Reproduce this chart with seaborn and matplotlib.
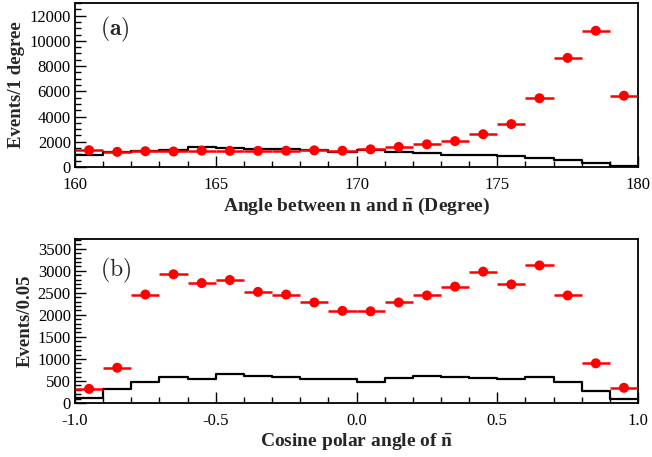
import numpy as np
import pandas as pd
import matplotlib
matplotlib.use("Agg")
import matplotlib.pyplot as plt
import seaborn as sns
from matplotlib.ticker import MultipleLocator

# ---- data ----
angle_edges = list(range(160, 181))
angle_data = [1330, 1200, 1250, 1230, 1300, 1280, 1280, 1290, 1320, 1290,
              1400, 1590, 1800, 2050, 2600, 3400, 5450, 8650, 10800, 5650]
angle_mc = [990, 1150, 1250, 1310, 1570, 1490, 1440, 1390, 1360, 1200,
            1310, 1200, 1120, 990, 990, 860, 700, 540, 280, 90]

cos_edges = [round(-1.0 + 0.1 * i, 2) for i in range(21)]
cos_data = [320, 800, 2460, 2920, 2720, 2790, 2520, 2460, 2280, 2090,
            2080, 2280, 2440, 2640, 2980, 2690, 3120, 2440, 900, 345]
cos_mc = [105, 318, 485, 600, 540, 650, 620, 585, 555, 555,
          485, 560, 620, 600, 575, 540, 600, 470, 280, 90]

sns.set_theme(style="white")
plt.rcParams["font.family"] = ["Liberation Serif", "DejaVu Serif"]
plt.rcParams["mathtext.fontset"] = "stix"

fig = plt.figure(figsize=(6.52, 4.57), dpi=100)
W, H = 652, 457


def make_ax(top, bottom, left=75, right=638):
    return fig.add_axes([left / W, 1 - bottom / H, (right - left) / W, (bottom - top) / H])


def draw(ax, edges, data, mc, xlim, ylim, xmaj, xmin, ymaj, ymin, xlabel, ylabel, tag, tagy, xfmt):
    e = np.array(edges, dtype=float)
    centers = (e[:-1] + e[1:]) / 2
    half = (e[1] - e[0]) / 2
    df = pd.DataFrame({"x": centers, "data": data, "mc": mc})
    sns.histplot(data=df, x="x", weights="mc", bins=list(e), element="step", fill=False,
                 color="black", linewidth=1.6, ax=ax)
    ax.errorbar(df["x"], df["data"], xerr=half, fmt="none", ecolor="#ff0000",
                elinewidth=1.8, capsize=0, zorder=3)
    sns.scatterplot(data=df, x="x", y="data", color="#ff0000", s=52, edgecolor="none",
                    ax=ax, zorder=4)
    ax.set_xlim(*xlim)
    ax.set_ylim(*ylim)
    ax.xaxis.set_major_locator(MultipleLocator(xmaj))
    ax.xaxis.set_minor_locator(MultipleLocator(xmin))
    ax.yaxis.set_major_locator(MultipleLocator(ymaj))
    ax.yaxis.set_minor_locator(MultipleLocator(ymin))
    ax.tick_params(which="both", direction="in", top=False, right=False,
                   bottom=True, left=True, labelsize=12, colors="black", width=1.0)
    ax.tick_params(which="major", length=8)
    ax.tick_params(axis="x", which="major", pad=7)
    ax.tick_params(axis="y", which="major", pad=3)
    ax.tick_params(which="minor", length=4)
    ax.xaxis.set_major_formatter(xfmt)
    for s in ax.spines.values():
        s.set_color("black")
        s.set_linewidth(1.3)
    ax.set_xlabel(xlabel, fontsize=14, fontweight="bold", labelpad=2)
    ax.set_ylabel(ylabel, fontsize=13.5, fontweight="bold", labelpad=3)
    ax.text(0.045, tagy, tag, transform=ax.transAxes, fontsize=17, va="center", ha="left",
            math_fontfamily="cm")
    ax.grid(False)


nbar = r"$\mathbf{\bar{n}}$"

ax1 = make_ax(3, 167)
draw(ax1, angle_edges, angle_data, angle_mc, (160, 180), (0, 13000), 5, 1, 2000, 500,
     "Angle between n and " + nbar + " (Degree)", "Events/1 degree", r"$\mathbf{(a)}$", 0.84,
     matplotlib.ticker.FuncFormatter(lambda v, p: f"{v:.0f}"))

ax2 = make_ax(239, 403)
draw(ax2, cos_edges, cos_data, cos_mc, (-1, 1), (0, 3720), 0.5, 0.1, 500, 100,
     "Cosine polar angle of " + nbar, "Events/0.05", r"$(\mathrm{b})$", 0.81,
     matplotlib.ticker.FuncFormatter(lambda v, p: f"{v:.1f}"))

fig.savefig("out.png", dpi=100)
